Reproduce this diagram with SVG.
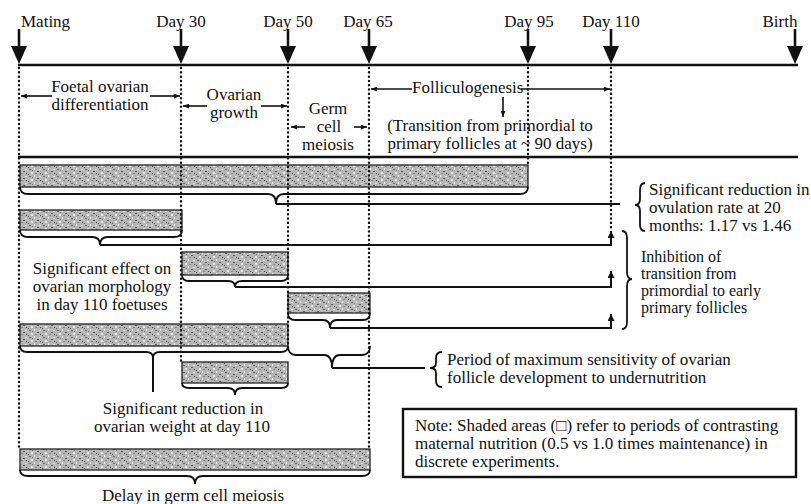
<svg xmlns="http://www.w3.org/2000/svg" width="811" height="504" viewBox="0 0 811 504">
<style>
text{font-family:"Liberation Serif","Times New Roman",serif;font-size:17px;fill:#111}
.m{text-anchor:middle}
.s16{font-size:16px}
.ax{stroke:#111;stroke-width:2.6;fill:none}
.dot{stroke:#111;stroke-width:2.4;stroke-dasharray:0.1 4.2;stroke-linecap:round;fill:none}
.bar{fill:url(#stip);stroke:#222;stroke-width:1.3}
.br{stroke:#111;stroke-width:1.8;fill:none}
.ln{stroke:#111;stroke-width:2;fill:none}
.ha{stroke:#111;stroke-width:1.6;fill:none;marker-end:url(#ah)}
.ua{stroke:#111;stroke-width:2;fill:none;marker-end:url(#uh)}
</style>
<defs>
<pattern id="stip" width="14" height="7" patternUnits="userSpaceOnUse">
<rect width="14" height="7" fill="#b6b6b6"/>
<rect x="1" y="1" width="2" height="1" fill="#666"/>
<rect x="6" y="0" width="1" height="2" fill="#f0f0f0"/>
<rect x="9" y="3" width="2" height="1" fill="#5a5a5a"/>
<rect x="3" y="4" width="2" height="2" fill="#e8e8e8"/>
<rect x="12" y="5" width="1" height="1" fill="#444"/>
<rect x="7" y="5" width="2" height="1" fill="#888"/>
<rect x="11" y="1" width="2" height="1" fill="#e0e0e0"/>
<rect x="0" y="6" width="1" height="1" fill="#555"/>
<rect x="4" y="2" width="1" height="1" fill="#777"/>
</pattern>
<marker id="ah" viewBox="0 0 10 8" refX="10" refY="4" markerWidth="6" markerHeight="5" markerUnits="userSpaceOnUse" orient="auto"><path d="M0,0 L10,4 L0,8 Z" fill="#111"/></marker>
<marker id="uh" viewBox="0 0 10 10" refX="10" refY="5" markerWidth="8" markerHeight="7" markerUnits="userSpaceOnUse" orient="auto"><path d="M0,0 L10,5 L0,10 Z" fill="#111"/></marker>
</defs>

<g id="timeline">
<line class="ax" x1="18" y1="65" x2="798" y2="65"/>
<line class="ax" x1="18" y1="157" x2="798" y2="157"/>
<g id="tick-arrows" fill="#111">
<line class="ax" x1="19" y1="29" x2="19" y2="48"/><polygon points="11,46 27,46 19,64"/>
<line class="ax" x1="181" y1="29" x2="181" y2="48"/><polygon points="173,46 189,46 181,64"/>
<line class="ax" x1="288" y1="29" x2="288" y2="48"/><polygon points="280,46 296,46 288,64"/>
<line class="ax" x1="369" y1="29" x2="369" y2="48"/><polygon points="361,46 377,46 369,64"/>
<line class="ax" x1="528" y1="29" x2="528" y2="48"/><polygon points="520,46 536,46 528,64"/>
<line class="ax" x1="611" y1="29" x2="611" y2="48"/><polygon points="603,46 619,46 611,64"/>
<line class="ax" x1="795" y1="29" x2="795" y2="48"/><polygon points="787,46 803,46 795,64"/>
</g>
<text x="21" y="27">Mating</text>
<text class="m" x="181" y="27">Day 30</text>
<text class="m" x="288" y="27">Day 50</text>
<text class="m" x="368" y="27">Day 65</text>
<text class="m" x="529" y="27">Day 95</text>
<text class="m" x="611" y="27">Day 110</text>
<text class="m" x="780" y="27">Birth</text>
</g>

<g id="bars">
<rect class="bar" x="20" y="165" width="508" height="22"/>
<rect class="bar" x="20" y="210" width="162" height="20"/>
<rect class="bar" x="182" y="252" width="106" height="23"/>
<rect class="bar" x="288" y="293" width="82" height="20"/>
<rect class="bar" x="20" y="324" width="268" height="22"/>
<rect class="bar" x="182" y="362" width="106" height="21"/>
<rect class="bar" x="20" y="449" width="350" height="21"/>
</g>

<g id="dotted">
<line class="dot" x1="19" y1="68" x2="19" y2="449"/>
<line class="dot" x1="181" y1="68" x2="181" y2="362"/>
<line class="dot" x1="288" y1="68" x2="288" y2="348"/>
<line class="dot" x1="369" y1="68" x2="369" y2="449"/>
<line class="dot" x1="528" y1="68" x2="528" y2="165"/>
<line class="dot" x1="611" y1="68" x2="611" y2="231"/>
</g>

<g id="periods">
<line class="ha" x1="52" y1="96" x2="21" y2="96"/>
<line class="ha" x1="150" y1="96" x2="180" y2="96"/>
<text class="m" x="100" y="92">Foetal ovarian</text>
<text class="m" x="100" y="110">differentiation</text>
<line class="ha" x1="207" y1="106" x2="183" y2="106"/>
<line class="ha" x1="261" y1="106" x2="287" y2="106"/>
<text class="m" x="234" y="100">Ovarian</text>
<text class="m" x="234" y="118">growth</text>
<line class="ha" x1="305" y1="127" x2="291" y2="127"/>
<line class="ha" x1="354" y1="127" x2="367" y2="127"/>
<text class="m" x="328" y="114">Germ</text>
<text class="m" x="329" y="132">cell</text>
<text class="m" x="328" y="150">meiosis</text>
<line class="ha" x1="412" y1="89" x2="371" y2="89"/>
<line class="ha" x1="521" y1="89" x2="610" y2="89"/>
<text x="412" y="93">Folliculogenesis</text>
<line class="ha" x1="503" y1="97" x2="503" y2="117"/>
<text class="m" x="490" y="131">(Transition from primordial to</text>
<text class="m" x="490" y="149">primary follicles at ~ 90 days)</text>
</g>

<g id="braces">
<path class="br" d="M20,187 Q20,194 28,194 L268,194 Q276,194 276,204 Q276,194 284,194 L520,194 Q528,194 528,187"/>
<path class="br" d="M20,230 Q20,237 28,237 L92,237 Q100,237 100,245 Q100,237 108,237 L174,237 Q182,237 182,230"/>
<path class="br" d="M182,275 Q182,281 189,281 L228,281 Q235,281 235,287 Q235,281 242,281 L281,281 Q288,281 288,275"/>
<path class="br" d="M288,313 Q288,320 295,320 L323,320 Q330,320 330,328 Q330,320 337,320 L363,320 Q370,320 370,313"/>
<path class="br" d="M20,346 Q20,352 27,352 L146,352 Q153,352 153,358 Q153,352 160,352 L281,352 Q288,352 288,346"/>
<path class="br" d="M288,346 Q288,355 296,355 L324,355 Q332,355 332,368 Q332,355 340,355 L362,355 Q370,355 370,346"/>
<path class="br" d="M182,383 Q182,388 189,388 L228,388 Q235,388 235,395 Q235,388 242,388 L281,388 Q288,388 288,383"/>
<path class="br" d="M20,470 Q20,476 28,476 L187,476 Q195,476 195,484 Q195,476 203,476 L362,476 Q370,476 370,470"/>
<path class="br" d="M645,183 Q640,183 640,190 L640,199 Q640,205 635,205 Q640,205 640,211 L640,225 Q640,231 645,231"/>
<path class="br" d="M622,231 Q627,231 627,238 L627,272 Q627,279 632,279 Q627,279 627,286 L627,322 Q627,329 622,329"/>
<path class="br" d="M442,352 Q436,352 436,358 L436,363 Q436,368 430,368 Q436,368 436,373 L436,381 Q436,387 442,387"/>
</g>

<g id="connectors">
<line class="ln" x1="276" y1="204" x2="620" y2="204"/>
<polyline class="ua" points="100,245 611,245 611,231"/>
<polyline class="ua" points="235,287 611,287 611,271"/>
<polyline class="ua" points="330,328 611,328 611,314"/>
<line class="ln" x1="153" y1="358" x2="153" y2="392"/>
<line class="ln" x1="332" y1="368" x2="425" y2="368"/>
</g>

<g id="outcomes">
<text x="649" y="195">Significant reduction in</text>
<text x="649" y="213">ovulation rate at 20</text>
<text x="649" y="231">months: 1.17 vs 1.46</text>
<text class="s16" x="641" y="262">Inhibition of</text>
<text class="s16" x="641" y="279">transition from</text>
<text class="s16" x="641" y="296">primordial to early</text>
<text class="s16" x="641" y="313">primary follicles</text>
<text class="m" x="102" y="274">Significant effect on</text>
<text class="m" x="102" y="292">ovarian morphology</text>
<text class="m" x="102" y="310">in day 110 foetuses</text>
<text class="m" x="183" y="414">Significant reduction in</text>
<text class="m" x="182" y="432">ovarian weight at day 110</text>
<text class="m" x="193" y="501">Delay in germ cell meiosis</text>
<text x="447" y="365">Period of maximum sensitivity of ovarian</text>
<text x="447" y="383">follicle development to undernutrition</text>
</g>

<g id="note">
<rect x="403" y="409" width="393" height="68" fill="none" stroke="#111" stroke-width="2.4"/>
<text x="415" y="431">Note:  Shaded areas (□) refer to periods of contrasting</text>
<text x="415" y="449">maternal nutrition (0.5 vs 1.0 times maintenance) in</text>
<text x="415" y="467">discrete experiments.</text>
</g>
</svg>
